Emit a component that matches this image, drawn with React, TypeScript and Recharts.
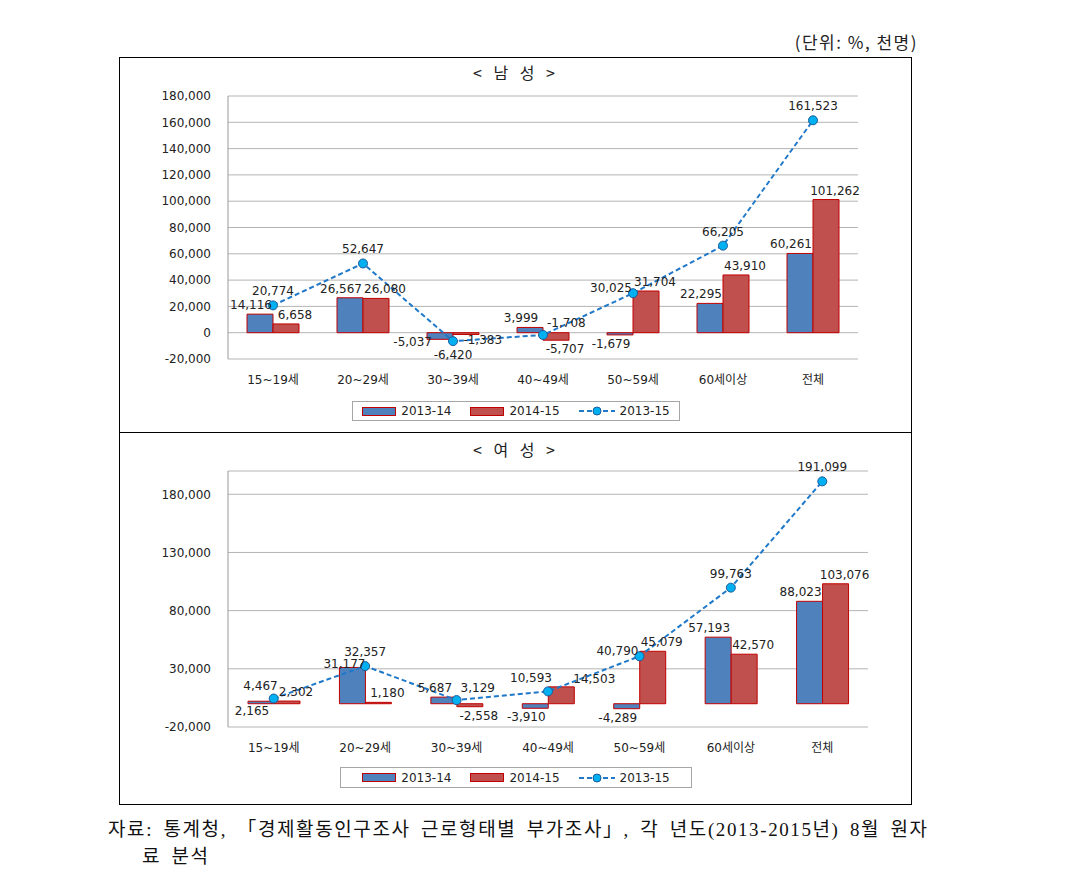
import { ComposedChart, Bar, Line, XAxis, YAxis, CartesianGrid, LabelList } from "recharts";

const CATEGORIES = ["15~19세", "20~29세", "30~39세", "40~49세", "50~59세", "60세이상", "전체"];
const SERIES_NAMES = ["2013-14", "2014-15", "2013-15"];

// 남성
const MALE_2013_14 = [14116, 26567, -5037, 3999, -1679, 22295, 60261];
const MALE_2014_15 = [6658, 26080, -1383, -5707, 31704, 43910, 101262];
const MALE_2013_15 = [20774, 52647, -6420, -1708, 30025, 66205, 161523];
const MALE_TICKS = [-20000, 0, 20000, 40000, 60000, 80000, 100000, 120000, 140000, 160000, 180000];

// 여성
const FEMALE_2013_14 = [2165, 31177, 5687, -3910, -4289, 57193, 88023];
const FEMALE_2014_15 = [2302, 1180, -2558, 14503, 45079, 42570, 103076];
const FEMALE_2013_15 = [4467, 32357, 3129, 10593, 40790, 99763, 191099];
const FEMALE_TICKS = [-20000, 30000, 80000, 130000, 180000];

// where each data label sits (like the hand-moved labels in the original)
const MALE_LABEL_POS = {
  a: ["auto", "auto", "left", "auto", "auto", "auto", "auto"],
  b: ["auto", "auto", "right", "auto", "auto", "auto", "auto"],
  c: ["top", "top", "bottom", "topright", "left", "top", "top"],
};
const FEMALE_LABEL_POS = {
  a: ["bottom", "topleft", "auto", "auto", "auto", "auto", "auto"],
  b: ["auto", "auto", "auto", "topright", "auto", "auto", "auto"],
  c: ["topleft", "top", "topright", "topleft", "left", "top", "top"],
};

const FONT = '"DejaVu Sans", "Noto Sans CJK KR", sans-serif';
const KFONT = '"Noto Sans CJK KR", "DejaVu Sans", sans-serif';
const SERIF = '"Liberation Serif", "Noto Sans CJK KR", serif';
const BLUE = "#4f81bd";
const RED = "#c0504d";
const EDGE = "#c00000";
const LINE = "#1f78c8";
const DOT = "#00b0f0";
const GRID = "#b4b4b4";

const fmt = (v: number) => v.toLocaleString("en-US");

const toRows = (a: number[], b: number[], c: number[]) =>
  CATEGORIES.map((cat, i) => ({ cat, a: a[i], b: b[i], c: c[i] }));

const txt = (x: number, y: number, anchor: string, v: number) => (
  <text x={x} y={y} textAnchor={anchor} fontSize={12} fill="#222" fontFamily={FONT}>{fmt(v)}</text>
);

const barLabel = (pos: string[], dx: number) => (p: any) => {
  const x = Number(p.x), y = Number(p.y), w = Number(p.width), h = Number(p.height);
  const v = Number(p.value);
  const top = Math.min(y, y + h);
  const bottom = Math.max(y, y + h);
  const mid = (top + bottom) / 2;
  const where = pos[p.index] || "auto";
  if (where === "left") return txt(x + 5, mid + 10, "end", v);
  if (where === "right") return txt(x + w * 0.4, bottom + 9, "start", v);
  if (where === "topleft") return txt(x + w, top + 1, "end", v);
  if (where === "topright") return txt(x + w - 1, top - 4, "start", v);
  if (where === "bottom") return txt(x + w / 2 + dx, bottom + 11, "middle", v);
  return txt(x + w / 2 + dx, v >= 0 ? top - 5 : bottom + 13, "middle", v);
};

const lineLabel = (pos: string[]) => (p: any) => {
  const x = Number(p.x), y = Number(p.y), v = Number(p.value);
  const where = pos[p.index] || "top";
  if (where === "bottom") return txt(x, y + 18, "middle", v);
  if (where === "left") return txt(x - 1, y - 1, "end", v);
  if (where === "topleft") return txt(x + 4, y - 9, "end", v);
  if (where === "topright") return txt(x + 4, y - 8, "start", v);
  return txt(x, y - 10, "middle", v);
};

function GenderChart({ rows, ticks, domain, width, height, margin, pos }: any) {
  return (
    <ComposedChart width={width} height={height} data={rows} margin={margin} barGap={0}>
      <CartesianGrid stroke={GRID} vertical={false} />
      <XAxis dataKey="cat" axisLine={false} tickLine={false} tickMargin={10}
        tick={{ fontSize: 12, fill: "#222", fontFamily: FONT }} interval={0} />
      <YAxis domain={domain} ticks={ticks} width={108} tickFormatter={fmt}
        axisLine={{ stroke: "#999" }} tickLine={false} tickMargin={11} allowDataOverflow
        tick={{ fontSize: 12, fill: "#222", fontFamily: FONT }} />
      <Bar dataKey="a" name={SERIES_NAMES[0]} fill={BLUE} stroke={EDGE} strokeWidth={1} barSize={26} isAnimationActive={false}>
        <LabelList dataKey="a" content={barLabel(pos.a, -9)} />
      </Bar>
      <Bar dataKey="b" name={SERIES_NAMES[1]} fill={RED} stroke={EDGE} strokeWidth={1} barSize={26} isAnimationActive={false}>
        <LabelList dataKey="b" content={barLabel(pos.b, 9)} />
      </Bar>
      <Line dataKey="c" name={SERIES_NAMES[2]} type="linear" stroke={LINE} strokeWidth={2} strokeDasharray="5 3"
        dot={{ r: 4.5, fill: DOT, stroke: "#1c5c9c", strokeWidth: 1, strokeDasharray: "" }} isAnimationActive={false}>
        <LabelList dataKey="c" content={lineLabel(pos.c)} />
      </Line>
    </ComposedChart>
  );
}

function LegendBox({ left, top, width, height }: any) {
  const swatch = (fill: string) => (
    <svg width={34} height={9} style={{ marginRight: 5 }}>
      <rect x={0.5} y={0.5} width={33} height={8} fill={fill} stroke={EDGE} strokeWidth={1} />
    </svg>
  );
  return (
    <div style={{
      position: "absolute", left, top, width, height, border: "1px solid #a6a6a6", boxSizing: "border-box",
      display: "flex", alignItems: "center", justifyContent: "center", fontFamily: FONT, fontSize: 12, color: "#222",
    }}>
      <span style={{ display: "flex", alignItems: "center", marginRight: 19 }}>{swatch(BLUE)}{SERIES_NAMES[0]}</span>
      <span style={{ display: "flex", alignItems: "center", marginRight: 19 }}>{swatch(RED)}{SERIES_NAMES[1]}</span>
      <span style={{ display: "flex", alignItems: "center" }}>
        <svg width={36} height={10} style={{ marginRight: 5 }}>
          <line x1={0} y1={5} x2={36} y2={5} stroke={LINE} strokeWidth={2} strokeDasharray="5 3" />
          <circle cx={18} cy={5} r={4} fill={DOT} stroke="#1c5c9c" strokeWidth={1} />
        </svg>
        {SERIES_NAMES[2]}
      </span>
    </div>
  );
}

const titleStyle = (top: number): any => ({
  position: "absolute", left: 120, width: 792, top, textAlign: "center",
  fontFamily: KFONT, fontSize: 16, color: "#222", letterSpacing: 4, whiteSpace: "pre",
});

export default function App() {
  return (
    <div style={{ position: "absolute", left: 0, top: 0, width: 1088, height: 875, background: "#fff" }}>
      <div style={{ position: "absolute", right: 170, top: 29, fontFamily: KFONT, fontSize: 17, letterSpacing: 1.5, color: "#222" }}>
        (단위: %, 천명)
      </div>

      <div style={{ position: "absolute", left: 119, top: 57, width: 793, height: 748, border: "1px solid #000", boxSizing: "border-box" }} />
      <div style={{ position: "absolute", left: 119, top: 432, width: 793, height: 1, background: "#000" }} />

      <div style={titleStyle(60)}>{"< 남 성 >"}</div>
      <div style={{ position: "absolute", left: 120, top: 58 }}>
        <GenderChart rows={toRows(MALE_2013_14, MALE_2014_15, MALE_2013_15)} ticks={MALE_TICKS}
          domain={[-20000, 180000]} width={792} height={372} pos={MALE_LABEL_POS}
          margin={{ top: 38, right: 54, left: 0, bottom: 41 }} />
      </div>
      <LegendBox left={352} top={401} width={328} height={20} />

      <div style={titleStyle(437)}>{"< 여 성 >"}</div>
      <div style={{ position: "absolute", left: 120, top: 434 }}>
        <GenderChart rows={toRows(FEMALE_2013_14, FEMALE_2014_15, FEMALE_2013_15)} ticks={FEMALE_TICKS}
          domain={[-20000, 200000]} width={792} height={330} pos={FEMALE_LABEL_POS}
          margin={{ top: 37, right: 44, left: 0, bottom: 7 }} />
      </div>
      <LegendBox left={340} top={767} width={352} height={21} />

      <div style={{
        position: "absolute", left: 108, top: 814, fontFamily: SERIF, fontSize: 19, letterSpacing: 1.6,
        wordSpacing: 4, color: "#111", whiteSpace: "nowrap",
      }}>
        자료: 통계청, 「경제활동인구조사 근로형태별 부가조사」, 각 년도(2013-2015년) 8월 원자
      </div>
      <div style={{
        position: "absolute", left: 142, top: 841, fontFamily: SERIF, fontSize: 19, letterSpacing: 1.6,
        wordSpacing: 4, color: "#111", whiteSpace: "nowrap",
      }}>
        료 분석
      </div>
    </div>
  );
}
